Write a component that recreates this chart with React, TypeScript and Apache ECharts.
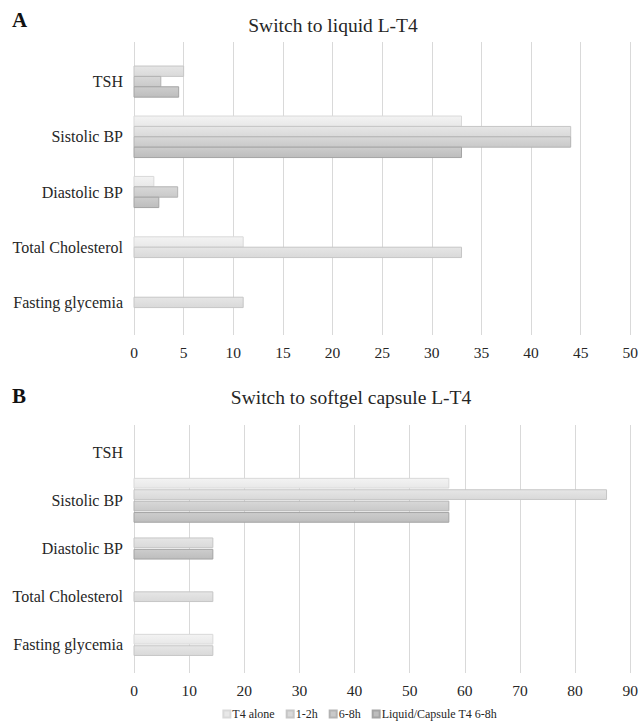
import React, { useEffect, useRef } from "react";
import * as echarts from "echarts";

const categories = ["TSH", "Sistolic BP", "Diastolic BP", "Total Cholesterol", "Fasting glycemia"];
const seriesNames = ["T4 alone", "1-2h", "6-8h", "Liquid/Capsule T4 6-8h"];

// Panel A: Switch to liquid L-T4
const aT4Alone = [null, 33, 2, 11, null];
const a12h = [5, 44, null, 33, 11];
const a68h = [2.7, 44, 4.4, null, null];
const aLiquid = [4.5, 33, 2.5, null, null];

// Panel B: Switch to softgel capsule L-T4
const bT4Alone = [null, 57.1, null, null, 14.3];
const b12h = [null, 85.7, 14.3, 14.3, 14.3];
const b68h = [null, 57.1, null, null, null];
const bCapsule = [null, 57.1, 14.3, null, null];

const aTicks = { max: 50, interval: 5 };
const bTicks = { max: 90, interval: 10 };

const FONT = "Liberation Serif";
const TEXT = "#262626";
const GRID = "#d9d9d9";

const palette = [
  { top: "#f3f3f3", bottom: "#e8e8e8", border: "#d9d9d9" },
  { top: "#e6e6e6", bottom: "#d9d9d9", border: "#c6c6c6" },
  { top: "#d8d8d8", bottom: "#c9c9c9", border: "#b3b3b3" },
  { top: "#cdcdcd", bottom: "#bdbdbd", border: "#a4a4a4" },
];

function buildData(groups: (number | null)[][]) {
  const out: number[][][] = groups.map(() => []);
  for (let c = 0; c < categories.length; c++) {
    const present: number[] = [];
    groups.forEach((g, s) => {
      if (g[c] !== null && g[c] !== undefined) present.push(s);
    });
    present.forEach((s, slot) => {
      out[s].push([groups[s][c] as number, c, slot, present.length]);
    });
  }
  return out;
}

function makeSeries(groups: (number | null)[][], axisIndex: number, frac: number, gap: number) {
  const data = buildData(groups);
  return data.map((d, s) => ({
    type: "custom",
    name: seriesNames[s],
    xAxisIndex: axisIndex,
    yAxisIndex: axisIndex,
    encode: { x: 0, y: 1 },
    itemStyle: { color: palette[s].bottom, borderColor: palette[s].border, borderWidth: 1 },
    data: d,
    renderItem: (params: any, api: any) => {
      const val = api.value(0);
      const cat = api.value(1);
      const slot = api.value(2);
      const count = api.value(3);
      const start = api.coord([0, cat]);
      const end = api.coord([val, cat]);
      const band = api.size([0, 1])[1];
      const pitch = band * frac;
      const h = pitch - gap;
      const y = start[1] - (count * pitch) / 2 + slot * pitch + gap / 2;
      return {
        type: "rect",
        shape: { x: start[0], y, width: end[0] - start[0], height: h },
        style: {
          fill: new echarts.graphic.LinearGradient(0, 0, 0, 1, [
            { offset: 0, color: palette[s].top },
            { offset: 1, color: palette[s].bottom },
          ]),
          stroke: palette[s].border,
          lineWidth: 1,
        },
      };
    },
  }));
}

export default function App() {
  const ref = useRef<HTMLDivElement>(null);
  useEffect(() => {
    if (!ref.current) return;
    const chart = echarts.init(ref.current, undefined, { renderer: "svg" });
    const valueAxis = (gridIndex: number, t: { max: number; interval: number }, tickLen: number, margin: number) => ({
      type: "value",
      gridIndex,
      min: 0,
      max: t.max,
      interval: t.interval,
      axisLine: { show: false },
      axisTick: { show: true, length: tickLen, lineStyle: { color: GRID } },
      splitLine: { show: true, lineStyle: { color: GRID, width: 1 } },
      axisLabel: { color: TEXT, fontFamily: FONT, fontSize: 15.5, margin },
    });
    const topExt = (gridIndex: number, t: { max: number; interval: number }, len: number) => ({
      type: "value",
      gridIndex,
      position: "top",
      min: 0,
      max: t.max,
      interval: t.interval,
      axisLine: { show: false },
      axisTick: { show: true, length: len, lineStyle: { color: GRID } },
      splitLine: { show: false },
      axisLabel: { show: false },
    });
    const catAxis = (gridIndex: number) => ({
      type: "category",
      gridIndex,
      inverse: true,
      data: categories,
      axisLine: { show: false },
      axisTick: { show: false },
      axisLabel: { color: TEXT, fontFamily: FONT, fontSize: 16, margin: 11 },
    });
    chart.setOption({
      animation: false,
      backgroundColor: "#ffffff",
      textStyle: { fontFamily: FONT },
      grid: [
        { left: 134, right: 7, top: 54, height: 276 },
        { left: 134, right: 7, top: 428, height: 241 },
      ],
      xAxis: [valueAxis(0, aTicks, 5, 14), valueAxis(1, bTicks, 4, 13), topExt(0, aTicks, 12), topExt(1, bTicks, 3)],
      yAxis: [catAxis(0), catAxis(1)],
      legend: {
        data: seriesNames,
        right: 144,
        top: 708,
        padding: 0,
        icon: "rect",
        itemWidth: 7,
        itemHeight: 7,
        itemGap: 11,
        textStyle: { color: TEXT, fontFamily: FONT, fontSize: 12, padding: [0, 0, 0, -3] },
      },
      graphic: [
        { type: "text", left: 12, top: 9, style: { text: "A", fontFamily: FONT, fontWeight: "bold", fontSize: 21, fill: "#111" } },
        { type: "text", left: 12, top: 385, style: { text: "B", fontFamily: FONT, fontWeight: "bold", fontSize: 21, fill: "#111" } },
        { type: "text", x: 333, y: 25, style: { text: "Switch to liquid L-T4", fontFamily: FONT, fontSize: 19.5, fill: TEXT, align: "center", verticalAlign: "middle" } },
        { type: "text", x: 351, y: 397, style: { text: "Switch to softgel capsule L-T4", fontFamily: FONT, fontSize: 19.5, fill: TEXT, align: "center", verticalAlign: "middle" } },
      ],
      series: [
        ...makeSeries([aT4Alone, a12h, a68h, aLiquid], 0, 0.188, 0),
        ...makeSeries([bT4Alone, b12h, b68h, bCapsule], 1, 0.2365, 1.7),
      ],
    } as any);
    return () => chart.dispose();
  }, []);
  return <div ref={ref} style={{ width: 641, height: 728, position: "absolute", left: 0, top: 0 }} />;
}
